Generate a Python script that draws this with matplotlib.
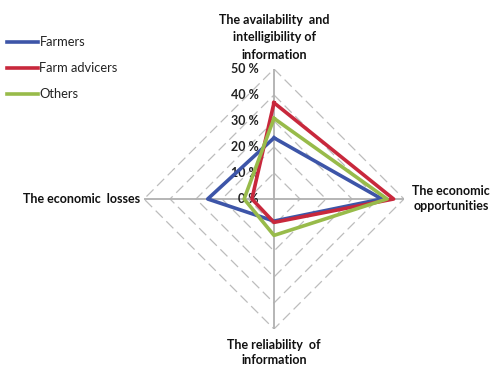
import numpy as np
import matplotlib
matplotlib.use("Agg")
import matplotlib.pyplot as plt

plt.rcParams["font.family"] = ["Lato", "DejaVu Sans"]

categories = [
    "The availability  and\nintelligibility of\ninformation",
    "The economic\nopportunities",
    "The reliability  of\ninformation",
    "The economic  losses",
]
series_names = ["Farmers", "Farm advicers", "Others"]
farmers = [0.235, 0.415, 0.085, 0.255]
advicers = [0.37, 0.46, 0.09, 0.085]
others = [0.31, 0.435, 0.14, 0.115]
tick_values = [0.0, 0.1, 0.2, 0.3, 0.4, 0.5]
tick_labels = ["0 %", "10 %", "20 %", "30 %", "40 %", "50 %"]

colors = ["#3d55a8", "#c8283c", "#98bb4a"]

fig = plt.figure(figsize=(4.91, 3.67), dpi=100)
ax = fig.add_axes([0.2933, 0.1036, 0.5295, 0.7084], projection="polar")
ax.set_theta_zero_location("N")
ax.set_theta_direction(-1)
ax.set_ylim(0, 0.5)
ax.grid(False)
ax.spines["polar"].set_visible(False)
ax.set_xticks([])
ax.set_yticks([])
ax.patch.set_alpha(0)

angles = np.linspace(0, 2 * np.pi, len(categories), endpoint=False)
closed = np.append(angles, angles[0])

# dashed diamond gridlines
for r in tick_values[1:]:
    ax.plot(closed, [r] * len(closed), color="#bdbdbd", lw=0.9,
            ls=(0, (8, 4)), zorder=1)
# solid spokes
for a in angles:
    ax.plot([a, a], [0, 0.5], color="#b0b0b0", lw=1.3, zorder=1)

# value labels along the top spoke
for v, lab in zip(tick_values, tick_labels):
    ax.annotate(lab, xy=(0, v), xytext=(-11, 0), textcoords="offset points",
                ha="right", va="center", fontsize=9, fontweight="bold",
                color="#222222", zorder=2)

for vals, name, c in zip([farmers, advicers, others], series_names, colors):
    ax.plot(closed, vals + vals[:1], color=c, lw=2.6, label=name, zorder=3)

# category labels
offsets = [((0, 6), "center", "bottom", 1.55),
           ((6, 0), "left", "center", 1.3),
           ((0, -7), "center", "top", 1.3),
           ((-3, 0), "right", "center", 1.3)]
for a, lab, (off, ha, va, ls) in zip(angles, categories, offsets):
    ax.annotate(lab, xy=(a, 0.5), xytext=off, textcoords="offset points",
                ha=ha, va=va, multialignment="center", fontsize=9,
                fontweight="bold", color="#111111", linespacing=ls,
                annotation_clip=False)

leg = ax.legend(loc="upper left", bbox_to_anchor=(0.004, 0.915),
                bbox_transform=fig.transFigure, frameon=False, fontsize=9.3,
                handlelength=2.4, handletextpad=0.1, labelspacing=1.08,
                borderaxespad=0)
for t in leg.get_texts():
    t.set_color("#222222")

fig.savefig("out.png", dpi=100)
